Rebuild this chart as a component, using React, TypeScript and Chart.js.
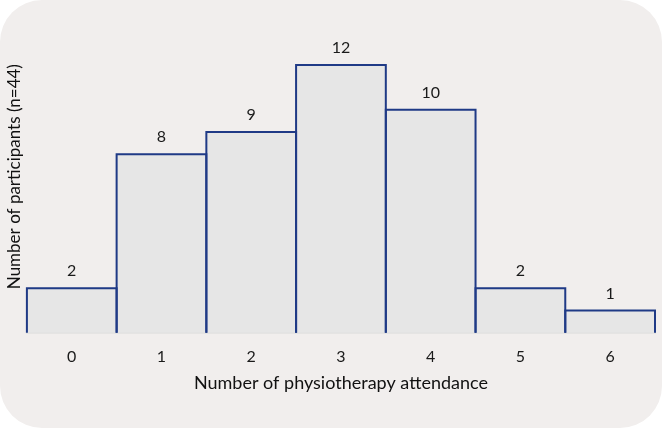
import React, { useEffect, useRef } from "react";
import { Chart, registerables } from "chart.js";

Chart.register(...registerables);

const categories = ["0", "1", "2", "3", "4", "5", "6"];
const participants = [2, 8, 9, 12, 10, 2, 1];
const yAxisMax = 14;
const xTitle = "Number of physiotherapy attendance";
const yTitle = "Number of participants (n=44)";

const FONT = "Lato, 'Open Sans', sans-serif";

const histogramDecor = {
  id: "histogramDecor",
  afterDatasetsDraw(chart: any) {
    const ctx = chart.ctx;
    const meta = chart.getDatasetMeta(0);
    const area = chart.chartArea;
    ctx.save();
    // outlines (left, top, right) so shared edges stay one line wide
    ctx.strokeStyle = "#1f3a86";
    ctx.lineWidth = 2;
    meta.data.forEach((bar: any) => {
      const half = bar.width / 2;
      ctx.beginPath();
      ctx.moveTo(bar.x - half, bar.base);
      ctx.lineTo(bar.x - half, bar.y);
      ctx.lineTo(bar.x + half, bar.y);
      ctx.lineTo(bar.x + half, bar.base);
      ctx.stroke();
    });
    // value labels
    ctx.fillStyle = "#1a1a1a";
    ctx.font = `16px ${FONT}`;
    ctx.textAlign = "center";
    ctx.textBaseline = "middle";
    meta.data.forEach((bar: any, i: number) => {
      ctx.fillText(String(participants[i]), bar.x, bar.y - 17);
    });
    // x axis title
    ctx.fillStyle = "#111";
    ctx.font = `18px ${FONT}`;
    ctx.fillText(xTitle, (area.left + area.right) / 2, area.bottom + 50);
    ctx.restore();
  },
};

export default function App() {
  const ref = useRef<HTMLCanvasElement>(null);
  useEffect(() => {
    if (!ref.current) return;
    const chart = new Chart(ref.current, {
      type: "bar",
      data: {
        labels: categories,
        datasets: [
          {
            data: participants,
            backgroundColor: "#e6e6e6",
            borderWidth: 0,
            barPercentage: 1,
            categoryPercentage: 1,
          },
        ],
      },
      options: {
        animation: false,
        responsive: true,
        maintainAspectRatio: false,
        layout: { padding: { left: 0, right: 7, top: 20.5, bottom: 48 } },
        plugins: { legend: { display: false }, tooltip: { enabled: false } },
        scales: {
          x: {
            grid: { display: false, drawTicks: false, tickLength: 0 },
            border: { display: true, color: "#d9d9d9", width: 1.5 },
            ticks: { color: "#1a1a1a", font: { family: FONT, size: 16 }, padding: 14 },
            title: { display: false },
          },
          y: {
            min: 0,
            max: yAxisMax,
            grid: { display: false, drawTicks: false, tickLength: 0 },
            border: { display: false },
            ticks: { display: false },
            title: {
              display: true,
              text: yTitle,
              color: "#111",
              font: { family: FONT, size: 17 },
              padding: { top: 4.5, bottom: 2 },
            },
          },
        },
      },
      plugins: [histogramDecor],
    });
    return () => chart.destroy();
  }, []);
  return (
    <div
      style={{
        position: "fixed",
        left: 0,
        top: 0,
        width: 662,
        height: 428,
        background: "#f1eeed",
        borderRadius: 42,
      }}
    >
      <canvas ref={ref} />
    </div>
  );
}
